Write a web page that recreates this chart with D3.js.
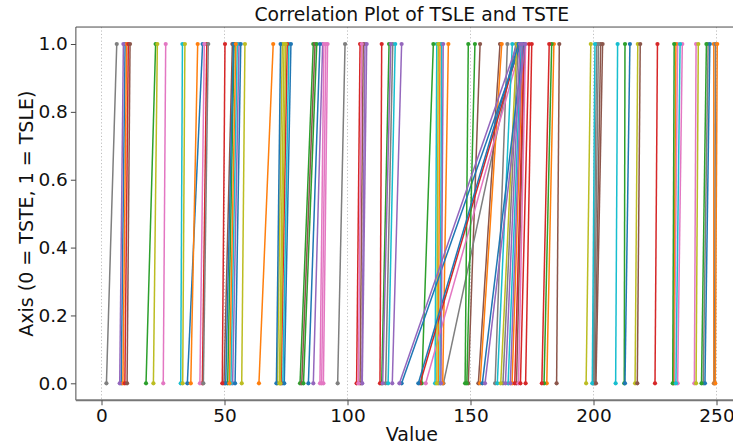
<!DOCTYPE html>
<html>
<head>
<meta charset="utf-8">
<script src="https://cdn.jsdelivr.net/npm/d3@7"></script>
<style>
  html, body { margin: 0; padding: 0; background: #fff; overflow: hidden; }
  svg { display: block; font-family: "DejaVu Sans", sans-serif; }
</style>
</head>
<body>
<svg id="chart" width="733" height="444"></svg>
<script>
// Each pair is one line: TSTE value drawn at axis 0, TSLE value at axis 1.
const tste = [
  8.0, 8.7, 18.1, 9.5, 7.4, 10.4, 25.1, 2.0, 21.1, 32.2,
  34.9, 36.3, 51.3, 41.0, 53.3, 49.8, 40.0, 41.4, 33.0, 52.6,
  50.5, 52.0, 80.7, 49.1, 86.1, 81.4, 88.8, 96.0, 57.0, 73.7,
  54.3, 64.0, 82.1, 73.0, 105.8, 105.1, 89.5, 115.5, 71.5, 116.5,
  71.1, 136.9, 113.9, 103.7, 106.0, 149.1, 90.2, 139.0, 72.3, 135.6,
  74.3, 138.7, 130.2, 113.2, 114.3, 153.2, 104.4, 160.0, 72.7, 137.6,
  84.1, 153.9, 147.8, 129.5, 118.2, 168.7, 131.8, 163.2, 136.3, 160.9,
  122.0, 166.9, 148.5, 168.0, 121.1, 185.0, 169.5, 199.8, 162.3, 165.3,
  128.8, 181.0, 179.9, 170.3, 138.0, 200.6, 232.8, 200.2, 197.0, 199.5,
  154.8, 232.5, 212.5, 172.4, 155.9, 201.0, 234.2, 244.6, 216.9, 209.0,
  212.8, 248.9, 232.2, 179.0, 164.2, 217.8, 241.0, 249.2, 241.7, 233.5,
  245.3, 249.5, 243.9, 225.0, 166.2
];
const tsle = [
  9.6, 10.2, 22.0, 10.9, 8.9, 11.6, 26.1, 6.2, 22.7, 32.9,
  41.1, 39.1, 53.9, 42.8, 55.9, 53.2, 41.8, 43.4, 33.9, 55.2,
  53.6, 54.6, 86.1, 50.2, 89.9, 86.8, 90.4, 99.0, 58.3, 76.2,
  56.6, 69.8, 87.5, 75.5, 107.1, 106.4, 91.2, 118.4, 73.5, 119.4,
  72.8, 137.6, 116.9, 105.1, 107.8, 153.9, 91.9, 168.5, 74.2, 136.3,
  77.0, 141.0, 134.9, 113.9, 117.6, 162.0, 105.8, 165.0, 74.9, 138.3,
  88.8, 162.7, 149.1, 170.0, 122.0, 172.0, 170.8, 169.4, 136.9, 167.0,
  170.4, 171.3, 151.8, 171.8, 169.0, 186.1, 172.4, 201.3, 168.8, 170.6,
  169.5, 183.9, 183.0, 173.8, 138.9, 202.9, 234.2, 202.0, 198.9, 200.6,
  171.5, 233.5, 212.8, 174.9, 172.2, 203.7, 236.1, 246.6, 218.0, 209.8,
  214.8, 248.9, 232.8, 182.0, 170.1, 219.0, 241.7, 249.6, 242.6, 235.2,
  247.3, 250.3, 245.9, 226.0, 171.0
];
const axisLevels = [0, 1];          // 0 = TSTE, 1 = TSLE
const xTicks = [0, 50, 100, 150, 200, 250];
const yTicks = [0.0, 0.2, 0.4, 0.6, 0.8, 1.0];
const titleText = "Correlation Plot of TSLE and TSTE";
const xLabelText = "Value";
const yLabelText = "Axis (0 = TSTE, 1 = TSLE)";

const svg = d3.select("#chart");
const palette = d3.schemeCategory10;

// Scales: 2.46 px per unit on x, axis levels between y=383 (0) and y=44 (1)
const x = d3.scaleLinear().domain([0, 250]).range([101.5, 716.5]);
const y = d3.scaleLinear().domain([0, 1]).range([383.3, 44]);

// Plot frame with 5% margins around the data, like the default autoscale
const allVals = tste.concat(tsle);
const [xmin, xmax] = d3.extent(allVals);
const xpad = (xmax - xmin) * 0.05;
const frameL = x(xmin - xpad), frameR = x(xmax + xpad);
const frameT = y(1.05), frameB = y(-0.05);

// Dotted vertical grid at the x ticks
svg.append("g").selectAll("line").data(xTicks).join("line")
  .attr("x1", d => x(d)).attr("x2", d => x(d))
  .attr("y1", frameT).attr("y2", frameB)
  .attr("stroke", "#b8b8b8").attr("stroke-width", 0.9)
  .attr("stroke-dasharray", "1.2,2.2");

// Lines with end markers
const pairs = tste.map((v, i) => ({ a: v, b: tsle[i], c: palette[i % 10] }));
const gLines = svg.append("g");
pairs.forEach(p => {
  const g = gLines.append("g");
  g.append("line")
    .attr("x1", x(p.a)).attr("y1", y(axisLevels[0]))
    .attr("x2", x(p.b)).attr("y2", y(axisLevels[1]))
    .attr("stroke", p.c).attr("stroke-width", 1.5);
  g.selectAll("circle").data([[p.a, axisLevels[0]], [p.b, axisLevels[1]]]).join("circle")
    .attr("cx", d => x(d[0])).attr("cy", d => y(d[1])).attr("r", 2.1)
    .attr("fill", p.c);
});

// Spines
const spine = "#4a4a4a";
svg.append("line").attr("x1", frameL).attr("x2", frameR).attr("y1", frameT).attr("y2", frameT)
  .attr("stroke", spine).attr("stroke-width", 1);
svg.append("line").attr("x1", frameL).attr("x2", frameL).attr("y1", frameT).attr("y2", frameB)
  .attr("stroke", spine).attr("stroke-width", 1);
svg.append("line").attr("x1", frameL).attr("x2", frameR).attr("y1", frameB).attr("y2", frameB)
  .attr("stroke", "#777").attr("stroke-width", 2);

// Axes
const xAxis = d3.axisBottom(x).tickValues(xTicks).tickSize(5).tickPadding(4).tickFormat(d3.format("d"));
const gx = svg.append("g").attr("transform", `translate(0,${frameB})`).call(xAxis);
gx.select(".domain").remove();
gx.selectAll(".tick line").attr("stroke", spine);
gx.selectAll(".tick text").attr("font-size", 18.5).attr("fill", "#111")
  .attr("font-family", "DejaVu Sans");

const yAxis = d3.axisLeft(y).tickValues(yTicks).tickSize(5).tickPadding(3).tickFormat(d3.format(".1f"));
const gy = svg.append("g").attr("transform", `translate(${frameL},0)`).call(yAxis);
gy.select(".domain").remove();
gy.selectAll(".tick line").attr("stroke", spine);
gy.selectAll(".tick text").attr("font-size", 18.5).attr("fill", "#111")
  .attr("font-family", "DejaVu Sans");

// Title and axis labels
svg.append("text").attr("x", (frameL + frameR) / 2).attr("y", 21)
  .attr("text-anchor", "middle").attr("font-size", 18.8).attr("fill", "#111")
  .text(titleText);
svg.append("text").attr("x", (frameL + frameR) / 2).attr("y", 441)
  .attr("text-anchor", "middle").attr("font-size", 19).attr("fill", "#111")
  .text(xLabelText);
svg.append("text")
  .attr("transform", `translate(33,${(frameT + frameB) / 2}) rotate(-90)`)
  .attr("text-anchor", "middle").attr("font-size", 19).attr("fill", "#111")
  .text(yLabelText);
</script>
</body>
</html>
